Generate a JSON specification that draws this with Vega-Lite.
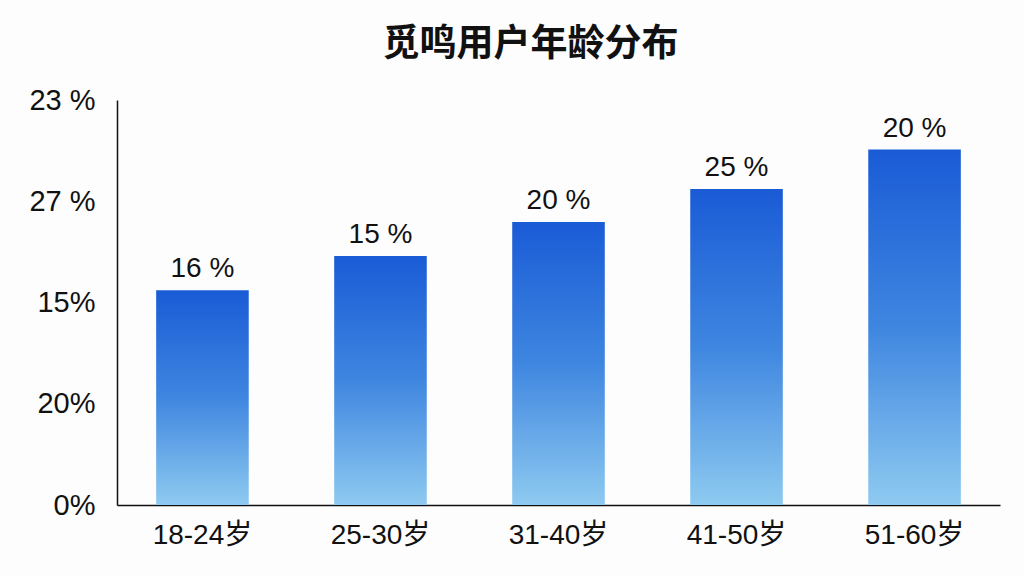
{
  "$schema": "https://vega.github.io/schema/vega-lite/v6.json",
  "autosize": {"type": "none"},
  "width": 883,
  "height": 405,
  "padding": {"left": 117, "top": 100, "right": 24, "bottom": 71},
  "background": "#fdfdfd",
  "title": {
    "text": "觅鸣用户年龄分布",
    "font": "Noto Sans CJK SC",
    "fontSize": 37,
    "fontWeight": "bold",
    "color": "#111111",
    "anchor": "middle",
    "dx": -28,
    "offset": 22
  },
  "data": {
    "values": [
      {"age": "18-24岁", "value": 21.2, "label": "16 %"},
      {"age": "25-30岁", "value": 24.6, "label": "15 %"},
      {"age": "31-40岁", "value": 27.95, "label": "20 %"},
      {"age": "41-50岁", "value": 31.2, "label": "25 %"},
      {"age": "51-60岁", "value": 35.1, "label": "20 %"}
    ]
  },
  "encoding": {
    "x": {
      "field": "age",
      "type": "nominal",
      "sort": null,
      "scale": {"paddingInner": 0.48, "paddingOuter": 0.22},
      "axis": {
        "title": null,
        "labelAngle": 0,
        "labelFont": "Liberation Sans, Noto Sans CJK SC",
        "labelFontSize": 28,
        "labelColor": "#111111",
        "labelPadding": 16,
        "ticks": false,
        "domainColor": "#111111",
        "domainWidth": 1.5
      }
    },
    "y": {
      "field": "value",
      "type": "quantitative",
      "scale": {"domain": [0, 40], "nice": false},
      "axis": {
        "title": null,
        "values": [0, 10, 20, 30, 40],
        "labelExpr": "datum.value == 0 ? '0%' : datum.value == 10 ? '20%' : datum.value == 20 ? '15%' : datum.value == 30 ? '27 %' : '23 %'",
        "labelFont": "Liberation Sans",
        "labelFontSize": 29,
        "labelColor": "#111111",
        "labelPadding": 22,
        "ticks": false,
        "grid": false,
        "domainColor": "#111111",
        "domainWidth": 1.5
      }
    }
  },
  "layer": [
    {
      "mark": {
        "type": "bar",
        "color": {
          "gradient": "linear",
          "x1": 0, "y1": 0, "x2": 0, "y2": 1,
          "stops": [
            {"offset": 0, "color": "#1a5bd6"},
            {"offset": 0.5, "color": "#3f86e0"},
            {"offset": 1, "color": "#8ecaf0"}
          ]
        }
      }
    },
    {
      "mark": {
        "type": "text",
        "baseline": "bottom",
        "dy": -7,
        "font": "Liberation Sans",
        "fontSize": 28,
        "color": "#111111"
      },
      "encoding": {"text": {"field": "label"}}
    }
  ],
  "config": {"view": {"stroke": null}}
}
